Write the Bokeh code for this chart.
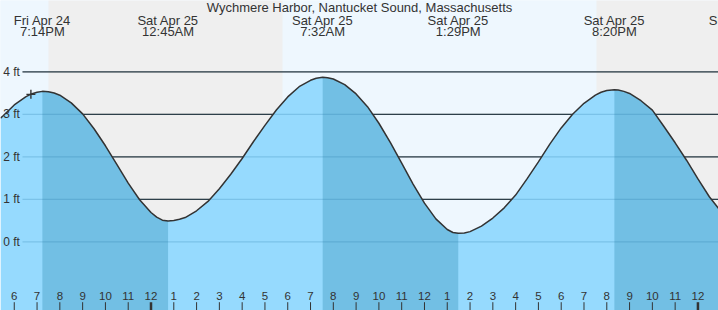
from bokeh.plotting import figure
from bokeh.models import ColumnDataSource, Range1d, Label
from bokeh.core.properties import value
from bokeh.embed import file_html
from bokeh.resources import INLINE

# ---------------- data ----------------
title_text = "Wychmere Harbor, Nantucket Sound, Massachusetts"

# hours since Sat Apr 25 00:00, tide height in ft
tide_hours = [-6.6, -6.5, -6.0, -5.5, -5.25, -5.0, -4.767, -4.5, -4.25, -4.0,
              -3.5, -3.0, -2.5, -2.0, -1.5, -1.0, -0.5, 0.0, 0.25, 0.5,
              0.75, 1.0, 1.25, 1.5, 2.0, 2.5, 3.0, 3.5, 4.0, 4.5,
              5.0, 5.5, 6.0, 6.5, 7.0, 7.25, 7.533, 7.75, 8.0, 8.5,
              9.0, 9.5, 10.0, 10.5, 11.0, 11.5, 12.0, 12.5, 13.0, 13.25,
              13.483, 13.75, 14.0, 14.5, 15.0, 15.5, 16.0, 16.5, 17.0, 17.5,
              18.0, 18.5, 19.0, 19.5, 19.75, 20.0, 20.333, 20.5, 20.75, 21.0,
              21.5, 22.0, 22.5, 23.0, 23.5, 24.0, 24.5, 25.0]
tide_ft = [2.91, 2.96, 3.22, 3.41, 3.48, 3.52, 3.54, 3.53, 3.50, 3.45,
           3.27, 3.01, 2.66, 2.26, 1.82, 1.38, 0.99, 0.69, 0.58, 0.51,
           0.49, 0.50, 0.53, 0.57, 0.73, 0.95, 1.25, 1.59, 1.96, 2.36,
           2.74, 3.10, 3.41, 3.65, 3.80, 3.85, 3.87, 3.86, 3.83, 3.70,
           3.48, 3.18, 2.79, 2.34, 1.85, 1.36, 0.91, 0.54, 0.29, 0.22,
           0.20, 0.21, 0.24, 0.37, 0.56, 0.80, 1.10, 1.48, 1.88, 2.30,
           2.68, 3.00, 3.26, 3.45, 3.52, 3.56, 3.58, 3.57, 3.54, 3.49,
           3.32, 3.10, 2.72, 2.33, 1.92, 1.48, 1.06, 0.72]

extreme_hours = [-4.767, 0.75, 7.533, 13.483, 20.333, 25.9]
extreme_kind = ["high", "low", "high", "low", "high", "low"]
extreme_date = ["Fri Apr 24", "Sat Apr 25", "Sat Apr 25", "Sat Apr 25", "Sat Apr 25", "Sun Apr 26"]
extreme_time = ["7:14PM", "12:45AM", "7:32AM", "1:29PM", "8:20PM", "1:54AM"]

sunset_hours = [-4.5, 19.55]
sunrise_hours = [5.77]

hour_ticks = list(range(-6, 25))
hour_labels = ["6", "7", "8", "9", "10", "11", "12",
               "1", "2", "3", "4", "5", "6", "7", "8", "9", "10", "11", "12",
               "1", "2", "3", "4", "5", "6", "7", "8", "9", "10", "11", "12"]
midnight_hours = [0, 24]

depth_ticks = [0, 1, 2, 3, 4]
depth_labels = ["0 ft", "1 ft", "2 ft", "3 ft", "4 ft"]

now_hour = -5.27
now_ft = 3.47

# ---------------- styling ----------------
FONT = value("Liberation Sans")
TXT = "#333333"
DAY = "#eef7fe"
NIGHT = "#efefef"
RISE = "#96dafe"
FALL = "#72bfe4"

X0, X1 = -6.604, 24.902
Y0, Y1 = -1.616, 5.678
px_h = (X1 - X0) / 718.0
px_v = (Y1 - Y0) / 310.0

p = figure(width=718, height=310, output_backend="svg", toolbar_location=None,
           tools="", title=None, x_range=Range1d(X0, X1), y_range=Range1d(Y0, Y1),
           x_axis_type=None, y_axis_type=None, min_border=0,
           background_fill_color=DAY, border_fill_color=DAY)
p.grid.visible = False
p.outline_line_color = None

# day / night background
day_left = [X0 - 1] + sunrise_hours
day_right = [sunset_hours[0]] + [sunset_hours[1]]
night_left = sunset_hours
night_right = sunrise_hours + [X1 + 2]
p.quad(left=day_left, right=day_right, bottom=Y0 - 1, top=Y1 + 1,
       fill_color=DAY, line_color=None)
p.quad(left=night_left, right=night_right, bottom=Y0 - 1, top=Y1 + 1,
       fill_color=NIGHT, line_color=None)

# gridlines (behind the water)
grid_x0 = X0 + 22 * px_h
p.segment(x0=[grid_x0] * len(depth_ticks), x1=[X1 + 1] * len(depth_ticks),
          y0=depth_ticks, y1=depth_ticks, line_color="#333333", line_width=1.2)

# water fill
bottom = Y0 - 1
p.varea(x=tide_hours, y1=[bottom] * len(tide_hours), y2=tide_ft, fill_color=RISE)
for i, k in enumerate(extreme_kind):
    if k == "high" and i + 1 < len(extreme_hours):
        a, b = extreme_hours[i], extreme_hours[i + 1]
        xs = [t for t in tide_hours if a <= t <= b]
        ys = [h for t, h in zip(tide_hours, tide_ft) if a <= t <= b]
        p.varea(x=xs, y1=[bottom] * len(xs), y2=ys, fill_color=FALL)

# gridlines seen through the water
p.segment(x0=[grid_x0] * len(depth_ticks), x1=[X1 + 1] * len(depth_ticks),
          y0=depth_ticks, y1=depth_ticks, line_color="#1b6e9e", line_alpha=0.22,
          line_width=1.2)

# depth labels
p.text(x=[X0 + 2.7 * px_h] * len(depth_ticks), y=depth_ticks, text=depth_labels,
       text_font=FONT, text_font_size="12px", text_color=TXT,
       text_align="left", text_baseline="middle")

# tide curve
p.line(tide_hours, tide_ft, line_color="#333333", line_width=1.5)

# now marker
p.scatter([now_hour], [now_ft], marker="cross", size=9, line_color="#333333",
          line_width=1.4)

# hour ticks & labels
tick_top = Y0 + (310 - 301.7) * px_v
thin = [h for h in hour_ticks if h not in midnight_hours]
p.segment(x0=thin, x1=thin, y0=[tick_top] * len(thin), y1=[Y0 - 0.1] * len(thin),
          line_color="#333333", line_width=1)
p.segment(x0=midnight_hours, x1=midnight_hours, y0=[tick_top] * 2, y1=[Y0 - 0.1] * 2,
          line_color="#333333", line_width=2.5)
p.text(x=hour_ticks, y=[Y0 + (310 - 295.3) * px_v] * len(hour_ticks), text=hour_labels,
       text_font=FONT, text_font_size="11.5px", text_color=TXT,
       text_align="center", text_baseline="middle")

# extreme labels
p.text(x=extreme_hours, y=[Y0 + (310 - 19.7) * px_v] * len(extreme_hours), text=extreme_date,
       text_font=FONT, text_font_size="13px", text_color=TXT,
       text_align="center", text_baseline="middle")
p.text(x=extreme_hours, y=[Y0 + (310 - 31.4) * px_v] * len(extreme_hours), text=extreme_time,
       text_font=FONT, text_font_size="13px", text_color=TXT,
       text_align="center", text_baseline="middle")

# title
p.add_layout(Label(x=359, y=310 - 7, x_units="screen", y_units="screen", text=title_text,
                   text_font="Liberation Sans", text_font_size="13px", text_color=TXT,
                   text_align="center", text_baseline="middle"))

open("out.html", "w").write(file_html(p, INLINE))
